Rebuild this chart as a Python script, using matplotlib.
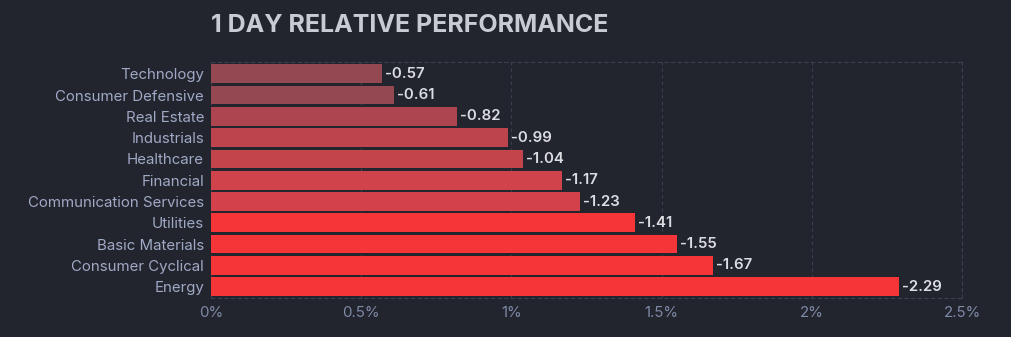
import matplotlib.pyplot as plt

plt.rcParams['font.family'] = ['Inter', 'DejaVu Sans']

# sector performance (1 day, %)
sectors = ["Technology", "Consumer Defensive", "Real Estate", "Industrials",
           "Healthcare", "Financial", "Communication Services", "Utilities",
           "Basic Materials", "Consumer Cyclical", "Energy"]
perf = [-0.57, -0.61, -0.82, -0.99, -1.04, -1.17, -1.23, -1.41, -1.55, -1.67, -2.29]
colors = ["#944851", "#944851", "#ad4550", "#bd444c", "#c4444b", "#d0434a",
          "#d3424a", "#f63539", "#f63539", "#f63539", "#f63539"]
xticks = [0, 0.5, 1, 1.5, 2, 2.5]
xticklabels = ["0%", "0.5%", "1%", "1.5%", "2%", "2.5%"]

bg = "#22252d"
grid = "#3b404c"

fig = plt.figure(figsize=(10.12, 3.37), dpi=100, facecolor=bg)
ax = fig.add_axes([211 / 1012, 1 - 298 / 337, 751 / 1012, 236 / 337])
ax.set_facecolor(bg)

ypos = list(range(len(sectors)))
vals = [abs(v) for v in perf]
ax.barh(ypos, vals, height=0.88, color=colors, linewidth=0, zorder=3)

for y, v, p in zip(ypos, vals, perf):
    ax.text(v + 0.01, y, f"{p:.2f}", va="center", ha="left", fontsize=10.8,
            fontweight="semibold", color="#dcdde3", zorder=4)

ax.set_xlim(0, 2.5)
ax.set_ylim(10.53, -0.55)
ax.set_yticks(ypos)
ax.set_yticklabels(sectors)
ax.set_xticks(xticks)
ax.set_xticklabels(xticklabels)
ax.tick_params(axis="y", length=0, pad=5, labelsize=10.8, labelcolor="#a0a9c6")
ax.tick_params(axis="x", length=0, pad=6, labelsize=10.8, labelcolor="#7f8aa8")

ax.grid(axis="x", color=grid, linestyle=(0, (3, 3)), linewidth=0.8, zorder=0)
for side in ["top", "bottom", "right"]:
    ax.spines[side].set_color(grid)
    ax.spines[side].set_linestyle((0, (3, 3)))
    ax.spines[side].set_linewidth(0.8)
ax.spines["left"].set_visible(False)

fig.text(211 / 1012, 1 - 25 / 337, "1 DAY RELATIVE PERFORMANCE", fontsize=18,
         fontweight="bold", color="#c9cbd4", va="center", ha="left")

fig.savefig("out.png", dpi=100, facecolor=bg)
